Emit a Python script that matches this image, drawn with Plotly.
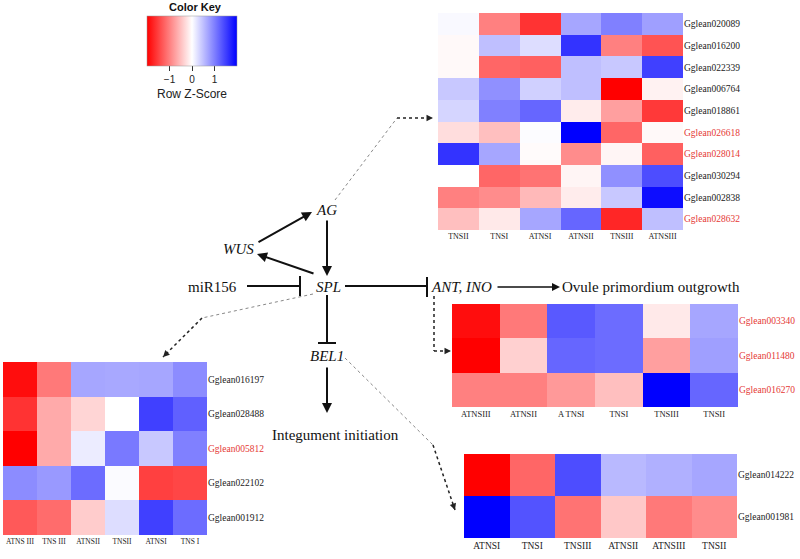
import plotly.graph_objects as go

# ---------------- data ----------------
h1_cols = ["TNSII", "TNSI", "ATNSI", "ATNSII", "TNSIII", "ATNSIII"]
h1_genes = ["Gglean020089", "Gglean016200", "Gglean022339", "Gglean006764", "Gglean018861",
            "Gglean026618", "Gglean028014", "Gglean030294", "Gglean002838", "Gglean028632"]
h1_red = [False, False, False, False, False, True, True, False, False, True]
h1_z = [
    [0.05, -1.0, -1.6, 0.7, 1.0, 0.75],
    [-0.05, 0.5, 0.27, 1.6, -1.0, -1.35],
    [-0.05, -1.2, -1.25, 0.5, 0.43, 1.5],
    [0.43, 0.87, 0.37, 0.5, -2.0, -0.1],
    [0.33, 1.0, 1.2, -0.15, -0.75, -1.55],
    [-0.27, -0.5, 0.02, 2.0, -1.2, -0.05],
    [1.6, 0.7, -0.03, -0.9, -0.08, -1.25],
    [0.0, -1.2, -1.1, -0.08, 0.87, 1.4],
    [-1.0, -0.9, -0.55, -0.15, 0.43, 1.9],
    [-0.5, -0.17, 0.7, 1.2, -1.7, 0.5],
]

h2_cols = ["ATNSIII", "ATNSII", "A TNSI", "TNSI", "TNSIII", "TNSII"]
h2_genes = ["Gglean003340", "Gglean011480", "Gglean016270"]
h2_red = [True, True, True]
h2_z = [
    [-1.9, -1.05, 1.3, 1.15, -0.17, 0.7],
    [-2.0, -0.37, 1.2, 1.15, -0.75, 0.75],
    [-1.0, -1.0, -0.8, -0.5, 2.0, 1.2],
]

h3_cols = ["ATNSI", "TNSI", "TNSIII", "ATNSII", "ATNSIII", "TNSII"]
h3_genes = ["Gglean014222", "Gglean001981"]
h3_red = [False, False]
h3_z = [
    [-2.0, -1.2, 1.4, 0.55, 0.62, 0.7],
    [2.0, 1.35, -1.1, -0.43, -1.05, -0.9],
]

h4_cols = ["ATNS III", "TNS III", "ATNSII", "TNSII", "ATNSI", "TNS I"]
h4_genes = ["Gglean016197", "Gglean028488", "Gglean005812", "Gglean022102", "Gglean001912"]
h4_red = [False, False, True, False, False]
h4_z = [
    [-1.9, -1.05, 0.7, 0.68, 0.7, 0.9],
    [-1.6, -0.67, -0.33, 0.0, 1.5, 1.25],
    [-2.0, -0.67, 0.15, 1.05, 0.43, 1.0],
    [0.9, 0.8, 1.15, 0.03, -1.5, -1.45],
    [-1.3, -1.15, -0.4, 0.27, 1.5, 1.15],
]

key_ticks = [-1, 0, 1]
key_ticktext = ["\u22121", "0", "1"]

# ---------------- layout helpers ----------------
W, H = 800, 559
RED = "#E53935"
SERIF = "Liberation Serif"
SANS = "Liberation Sans"


def px(x):
    return min(max(x / W, 0.0), 1.0)


def py(y):
    return min(max(1 - y / H, 0.0), 1.0)


fig = go.Figure()

heatmaps = [
    (h1_z, h1_cols, h1_genes, h1_red, (438, 683, 13, 230), 8, ""),
    (h2_z, h2_cols, h2_genes, h2_red, (452, 738, 304, 407), 8.5, "2"),
    (h3_z, h3_cols, h3_genes, h3_red, (464, 737, 454, 538), 9.5, "3"),
    (h4_z, h4_cols, h4_genes, h4_red, (3, 207, 362, 535), 7.5, "4"),
]

for z, cols, genes, reds, (x0, x1, y0, y1), cfs, ax in heatmaps:
    xi = list(range(len(cols)))
    yi = list(range(len(genes)))
    fig.add_trace(go.Heatmap(
        z=z, x=xi, y=yi, coloraxis="coloraxis",
        xaxis="x" + ax, yaxis="y" + ax, hoverinfo="skip",
    ))
    ticktext = [
        (f'<span style="color:{RED}">{g}</span>' if r else g)
        for g, r in zip(genes, reds)
    ]
    fig.update_layout(**{
        "xaxis" + ax: dict(
            domain=[px(x0), px(x1)], anchor="y" + ax,
            tickvals=xi, ticktext=cols, showgrid=False, zeroline=False,
            ticks="", tickfont=dict(family=SERIF, size=cfs, color="#222"),
            showline=False, fixedrange=True,
        ),
        "yaxis" + ax: dict(
            domain=[py(y1), py(y0)], anchor="x" + ax, side="right",
            autorange="reversed", tickvals=yi, ticktext=ticktext,
            showgrid=False, zeroline=False, ticks="",
            tickfont=dict(family=SERIF, size=9.5, color="#222"),
            showline=False, fixedrange=True,
        ),
    })

fig.update_layout(
    width=W, height=H,
    margin=dict(l=0, r=0, t=0, b=0),
    paper_bgcolor="white", plot_bgcolor="white",
    showlegend=False,
    coloraxis=dict(
        cmin=-2, cmax=2,
        colorscale=[[0, "#FF0000"], [0.5, "#FFFFFF"], [1, "#0000FF"]],
        colorbar=dict(
            orientation="h", x=px(192), xanchor="center",
            y=py(16), yanchor="top",
            thickness=50, thicknessmode="pixels",
            len=90, lenmode="pixels", xpad=0, ypad=0,
            outlinewidth=0.5, outlinecolor="#999",
            ticks="outside", ticklen=5, tickcolor="#333",
            tickvals=key_ticks, ticktext=key_ticktext,
            tickfont=dict(family=SANS, size=10, color="#222"),
            title=dict(text="Row Z-Score", side="bottom",
                       font=dict(family=SANS, size=12, color="#222")),
        ),
    ),
)

annotations = []
shapes = []


def text(x, y, s, italic=False, size=15, **kw):
    if italic:
        s = f"<i>{s}</i>"
    annotations.append(dict(
        x=px(x), y=py(y), xref="paper", yref="paper", text=s, showarrow=False,
        xanchor="center", yanchor="middle",
        font=dict(family=SERIF, size=size, color="#111"), **kw))


def arrow(tx, ty, hx, hy, width=2.0, color="#111"):
    annotations.append(dict(
        x=px(hx), y=py(hy), xref="paper", yref="paper", text="",
        showarrow=True, ax=tx - hx, ay=ty - hy, axref="pixel", ayref="pixel",
        arrowhead=2, arrowsize=1, arrowwidth=width, arrowcolor=color, standoff=0))


def line(x0, y0, x1, y1, width=2.0, color="#111", dash="solid"):
    shapes.append(dict(
        type="line", xref="paper", yref="paper",
        x0=px(x0), y0=py(y0), x1=px(x1), y1=py(y1),
        line=dict(width=width, color=color, dash=dash)))


def dotted_arrow(x0, y0, x1, y1):
    line(x0, y0, x1, y1, width=1.5, color="#222", dash="dot")
    dx, dy = x1 - x0, y1 - y0
    n = (dx * dx + dy * dy) ** 0.5
    arrow(x1 - 5 * dx / n, y1 - 5 * dy / n, x1, y1, width=1.3, color="#222")


# Color key title
annotations.append(dict(
    x=px(195), y=py(7), xref="paper", yref="paper", text="<b>Color Key</b>",
    showarrow=False, xanchor="center", yanchor="middle",
    font=dict(family=SANS, size=11, color="#111")))

# Diagram labels
text(326, 210, "AG", italic=True)
text(238, 249, "WUS", italic=True)
text(328, 287, "SPL", italic=True)
text(327, 356, "BEL1", italic=True)
text(461, 287, "ANT, INO", italic=True)
text(212, 287, "miR156")
text(651, 287, "Ovule primordium outgrowth")
text(335, 435, "Integument initiation")

# Solid arrows
arrow(257, 243, 312, 212)          # WUS -> AG
arrow(315, 274, 257, 254)          # SPL -> WUS
arrow(327, 219, 327, 276)          # AG -> SPL
arrow(327, 366, 327, 413)          # BEL1 -> integument
arrow(496, 287, 560, 287, width=1.6)  # ANT -> ovule

# Inhibitions
line(247, 286, 300, 286)
line(300, 276, 300, 296)
line(345, 286, 427, 286)
line(427, 277, 427, 297)
line(327, 295, 327, 343)
line(318, 343, 336, 343)

# Dotted links to heatmaps
line(335, 200, 397, 118, width=1, color="#888", dash="dot")
dotted_arrow(397, 118, 433, 118)
line(313, 294, 202, 318, width=1, color="#888", dash="dot")
dotted_arrow(202, 318, 163, 357)
line(345, 358, 433, 445, width=1, color="#888", dash="dot")
dotted_arrow(433, 445, 455, 510)
line(434, 296, 434, 351, width=1.5, color="#222", dash="dot")
dotted_arrow(434, 351, 451, 351)

fig.update_layout(annotations=annotations, shapes=shapes)

# remove the default page margin so the 800x559 figure fills the window
fig.write_html(
    "out.html",
    config={"displayModeBar": False},
    post_script="document.body.style.margin='0';document.body.style.overflow='hidden';",
)
